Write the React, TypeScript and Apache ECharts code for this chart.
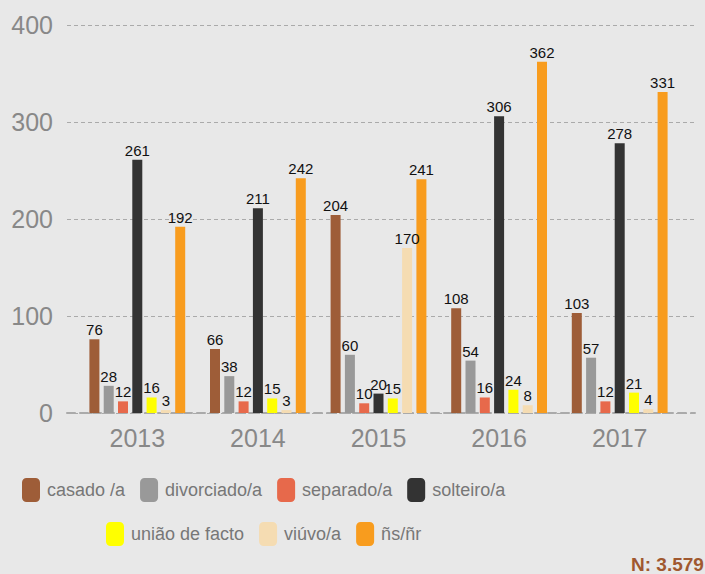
import React, { useEffect, useRef } from "react";
import * as echarts from "echarts";

const years = ["2013", "2014", "2015", "2016", "2017"];
const seriesNames = ["casado /a", "divorciado/a", "separado/a", "solteiro/a", "união de facto", "viúvo/a", "ñs/ñr"];
const casado = [76, 66, 204, 108, 103];
const divorciado = [28, 38, 60, 54, 57];
const separado = [12, 12, 10, 16, 12];
const solteiro = [261, 211, 20, 306, 278];
const uniao = [16, 15, 15, 24, 21];
const viuvo = [3, 3, 170, 8, 4];
const nsnr = [192, 242, 241, 362, 331];
const yTicks = { min: 0, max: 400, interval: 100 };
const colors = ["#9e5d38", "#999999", "#e7694b", "#333333", "#ffff00", "#f5dcb2", "#f89c1e"];

const FONT = "'Liberation Sans', Arial, Helvetica, sans-serif";

export default function App() {
  const ref = useRef<HTMLDivElement>(null);
  useEffect(() => {
    if (!ref.current) return;
    const chart = echarts.init(ref.current, null, { renderer: "svg" });
    const values = [casado, divorciado, separado, solteiro, uniao, viuvo, nsnr];
    const legendBase = {
      padding: 0,
      itemWidth: 18,
      itemHeight: 24,
      itemGap: 15,
      icon: "roundRect",
      textStyle: { fontSize: 18, color: "#777777", fontFamily: FONT, padding: [0, 0, 0, 2] },
    };
    chart.setOption({
      animation: false,
      backgroundColor: "#e8e8e8",
      textStyle: { fontFamily: FONT },
      color: colors,
      grid: [
        { left: 77, right: 25, top: 25, bottom: 161 },
        { left: 67, right: 10, top: 25, bottom: 161 },
      ],
      xAxis: [
        {
          type: "category",
          gridIndex: 0,
          data: years,
          axisLine: { show: false },
          axisTick: { show: false },
          axisLabel: { fontSize: 25, color: "#888888", margin: 12, fontFamily: FONT },
        },
        {
          type: "value",
          gridIndex: 1,
          min: 0,
          max: 1,
          axisLine: { show: true, lineStyle: { color: "#aaaaaa", width: 2, type: [8, 5] } },
          axisTick: { show: false },
          axisLabel: { show: false },
          splitLine: { show: false },
        },
      ],
      yAxis: [
        {
          type: "value",
          gridIndex: 0,
          ...yTicks,
          show: false,
          splitLine: { show: false },
        },
        {
          type: "value",
          gridIndex: 1,
          ...yTicks,
          axisLine: { show: false },
          axisTick: { show: false },
          axisLabel: { fontSize: 25, color: "#888888", margin: 14, fontFamily: FONT },
          splitLine: { show: true, lineStyle: { color: "#aaaaaa", width: 1, type: [4, 3] } },
        },
      ],
      legend: [
        { ...legendBase, data: seriesNames.slice(0, 4), left: 22, top: 478 },
        { ...legendBase, data: seriesNames.slice(4), left: 106, top: 522 },
      ],
      series: seriesNames.map((name, i) => ({
        name,
        type: "bar",
        xAxisIndex: 0,
        yAxisIndex: 0,
        data: values[i],
        barWidth: 10,
        barGap: "43%",
        itemStyle: { color: colors[i] },
        label: {
          show: true,
          position: "top",
          distance: 2,
          fontSize: 15,
          color: "#111111",
          fontFamily: FONT,
        },
      })),
      graphic: [
        {
          type: "text",
          left: 631,
          top: 555,
          style: {
            text: "N: 3.579",
            fontSize: 19,
            fontWeight: "bold",
            fill: "#a0582f",
            fontFamily: FONT,
          },
        },
      ],
    });
    return () => chart.dispose();
  }, []);
  return <div ref={ref} style={{ width: 705, height: 574, position: "absolute", left: 0, top: 0 }} />;
}
